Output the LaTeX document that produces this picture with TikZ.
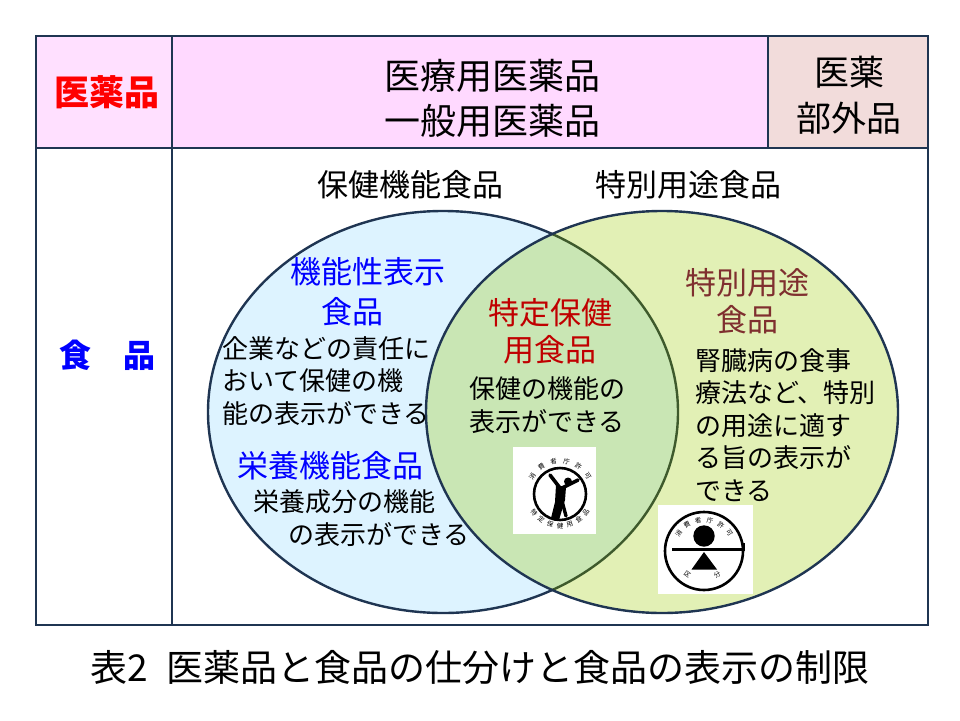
\documentclass[tikz,border=0pt]{standalone}
\usepackage{fontspec}
\setmainfont{Noto Sans CJK JP}
\usepackage{tikz}

\definecolor{frame}{HTML}{1F3552}
\definecolor{pinkleft}{HTML}{FFE0FF}
\definecolor{pinkhead}{HTML}{FFD9FF}
\definecolor{quasipink}{HTML}{F2DCDB}
\definecolor{bluefill}{HTML}{DDF3FF}
\definecolor{greenfill}{HTML}{E2F0B5}
\definecolor{mixfill}{HTML}{C9E6B4}
\definecolor{olive}{HTML}{3E5A2C}
\definecolor{tokuho}{HTML}{C00000}
\definecolor{tokubetsu}{HTML}{7F2F2F}

\tikzset{
  tbl/.style={draw=frame, line width=2.8pt},
  venn/.style={draw=frame, line width=2.4pt},
  head/.style={inner sep=0pt, align=center, font=\fontsize{36}{45}\selectfont},
  title/.style={inner sep=0pt, font=\fontsize{31}{36}\selectfont},
  group/.style={inner sep=0pt, align=center, font=\fontsize{31}{37}\selectfont},
  body/.style={inner sep=0pt, align=left, font=\fontsize{26}{32.5}\selectfont},
  tiny/.style={inner sep=0pt, font=\fontsize{6.5}{7}\selectfont},
}

\begin{document}
\begin{tikzpicture}[x=1pt, y=-1pt]
\useasboundingbox (0,0) rectangle (960,720);

% header cells
\fill[pinkleft] (36,36) rectangle (172,148);
\fill[pinkhead] (172,36) rectangle (768,148);
\fill[quasipink] (768,36) rectangle (928,148);

% venn
\fill[bluefill] (443,412) ellipse [x radius=235pt, y radius=201pt];
\fill[greenfill] (662,412) ellipse [x radius=236pt, y radius=201pt];
\begin{scope}
\clip (443,412) ellipse [x radius=235pt, y radius=201pt];
\fill[mixfill] (662,412) ellipse [x radius=236pt, y radius=201pt];
\end{scope}
\begin{scope}
\clip (662,412) ellipse [x radius=236pt, y radius=201pt];
\draw[venn, draw=olive] (443,412) ellipse [x radius=235pt, y radius=201pt];
\end{scope}
\begin{scope}[even odd rule]
\clip (0,0) rectangle (960,720) (662,412) ellipse [x radius=236pt, y radius=201pt];
\draw[venn] (443,412) ellipse [x radius=235pt, y radius=201pt];
\end{scope}
\draw[venn] (662,412) ellipse [x radius=236pt, y radius=201pt];

% tokuho seal
\filldraw[white] (513,447) rectangle (595,533);
\begin{scope}[shift={(560,494)}, yscale=-1]
\draw[line width=2.6pt] (0,0) circle [radius=26pt];
\foreach \c [count=\i from 0] in {消,費,者,庁,許,可}
  \node[tiny, rotate={57-\i*22.8}] (tk\i) at ({147-\i*22.8}:33) {\c};
\foreach \c [count=\i from 0] in {特,定,保,健,用,食,品}
  \node[tiny, rotate={306+\i*18}] (tb\i) at ({216+\i*18}:32) {\c};
\fill (8,12.5) circle [radius=4pt];
\draw[line width=3.6pt, line cap=round, line join=round] (-10,19) -- (0,6);
\draw[line width=3.6pt, line cap=round, line join=round] (2,6) -- (18,14);
\fill (-4,9) -- (6,7) -- (5,-6) -- (-1,-26) -- (-9,-24) -- (-5,-8) -- cycle;
\draw[line width=3.4pt, line cap=round] (2,-7) -- (6,-22);
\end{scope}

% tokubetsu seal
\filldraw[white] (658,505) rectangle (752,593);
\begin{scope}[shift={(704,551)}, yscale=-1]
\draw[line width=2.6pt] (0,0) circle [radius=39pt];
\fill (0,15) circle [radius=10.7pt];
\fill (0,-1) -- (13,-18.5) -- (-12.5,-18.5) -- cycle;
\draw[line width=2.7pt] (-32,1.5) -- (40,1.5) -- (40,8);
\foreach \c [count=\i from 0] in {消,費,者,庁,許,可}
  \node[tiny, rotate={55-\i*22}] (sk\i) at ({145-\i*22}:31) {\c};
\node[tiny, rotate=-36] (ku) at (-16.7,-23.3) {区};
\node[tiny, rotate=30] (bun) at (13.3,-23.3) {分};
\end{scope}

% table lines
\draw[tbl] (36,36) rectangle (928,625);
\draw[tbl] (36,148) -- (928,148);
\draw[tbl] (172,36) -- (172,625);
\draw[tbl] (768,36) -- (768,148);

% header texts
\node[head, text=red, font=\bfseries\fontsize{35}{42}\selectfont] (iyaku) at (107,92) {医薬品};
\node[head] (iryo) at (492,98) {医療用医薬品\\一般用医薬品};
\node[head, font=\fontsize{35}{46}\selectfont] (bugai) at (849,95) {医薬\\部外品};
\node[head, text=blue, font=\bfseries\fontsize{32}{40}\selectfont] (shoku) at (107,355) {食　品};

% venn texts
\node[title] (hoken) at (410,185) {保健機能食品};
\node[title] (tokubetsu) at (688,185) {特別用途食品};

\node[group, text=blue] (kinou1) at (368,272) {機能性表示};
\node[group, text=blue] (kinou2) at (352,312) {食品};
\node[body, anchor=west] (kinoutxt) at (222,381) {企業などの責任に\\おいて保健の機\\能の表示ができる};

\node[group, text=blue] (eiyo) at (330,466) {栄養機能食品};
\node[body, anchor=west] (eiyo1) at (253,502) {栄養成分の機能};
\node[body, anchor=west] (eiyo2) at (288,535) {の表示ができる};

\node[group, text=tokuho] (tokuho) at (550,331) {特定保健\\用食品};
\node[body, anchor=west] (tokuhotxt) at (469,405) {保健の機能の\\表示ができる};

\node[group, text=tokubetsu] (tokuyo) at (747,301) {特別用途\\食品};
\node[body, anchor=west] (tokuyotxt) at (695,425) {腎臓病の食事\\療法など、特別\\の用途に適す\\る旨の表示が\\できる};

% caption
\node[head, font=\fontsize{37}{44}\selectfont] (caption) at (480,668) {表2\hspace{0.5em}医薬品と食品の仕分けと食品の表示の制限};

\end{tikzpicture}
\end{document}
